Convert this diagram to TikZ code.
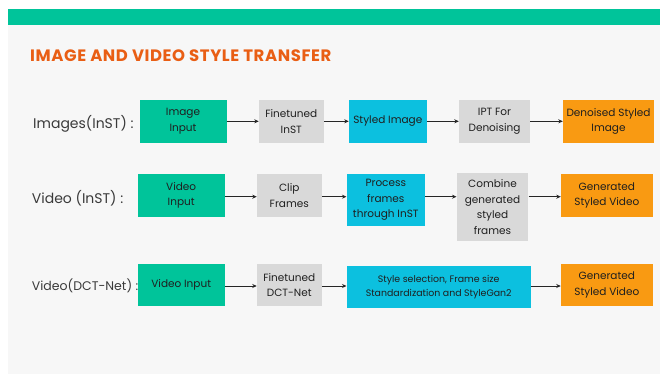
\documentclass[tikz,border=0pt]{standalone}
\usepackage{fontspec}
\setmainfont{Poppins}
\newfontfamily\titlefont[LetterSpace=3.5]{Poppins}
\usetikzlibrary{arrows.meta}
\definecolor{panel}{HTML}{F7F7F7}
\definecolor{topbar}{HTML}{00C49A}
\definecolor{inputc}{HTML}{00C49A}
\definecolor{stepc}{HTML}{D9D9D9}
\definecolor{stylec}{HTML}{0CC0DF}
\definecolor{outc}{HTML}{F99A12}
\definecolor{titlec}{HTML}{E95E14}
\definecolor{labelc}{HTML}{3A3A3A}
\begin{document}
\begin{tikzpicture}[x=1pt,y=-1pt,
  box/.style={draw=none, inner sep=1pt, align=center, text=black!88,
    font=\fontsize{10.5}{15.5}\selectfont},
  inbox/.style={box, fill=inputc},
  stepbox/.style={box, fill=stepc},
  stylebox/.style={box, fill=stylec},
  outbox/.style={box, fill=outc},
  rowlabel/.style={anchor=west, inner sep=0pt, text=labelc},
  arr/.style={-{Stealth[length=4.5pt,width=4pt]}, line width=0.8pt, black!85}]
\useasboundingbox (0,0) rectangle (660,375);
% background panel and top bar
\fill[panel] (8,9) rectangle (660,374);
\fill[topbar] (8,9) rectangle (660,25);
\node[anchor=base west, inner sep=0pt, text=titlec,
  font=\titlefont\fontsize{16.5}{18}\selectfont\bfseries] (title) at (30,61)
  {IMAGE AND VIDEO STYLE TRANSFER};

% row 1: images with InST
\node[rowlabel, font=\fontsize{14}{16}\selectfont] (l1) at (33,124) {Images(InST) :};
\node[inbox, minimum width=87pt, minimum height=42.5pt] (a1) at (183,121.3) {Image\\Input};
\node[stepbox, minimum width=64.7pt, minimum height=42.5pt] (b1) at (291.3,121.3) {Finetuned\\InST};
\node[stylebox, minimum width=77.7pt, minimum height=42.5pt] (c1) at (387.8,121.3) {Styled Image};
\node[stepbox, minimum width=71pt, minimum height=42.5pt] (d1) at (494.5,121.3) {IPT For\\Denoising};
\node[outbox, minimum width=91pt, minimum height=42.5pt] (e1) at (608.5,121.3) {Denoised Styled\\Image};
\draw[arr] (a1.east) -- (b1.west);
\draw[arr] (b1.east) -- (c1.west);
\draw[arr] (c1.east) -- (d1.west);
\draw[arr] (d1.east) -- (e1.west);

% row 2: video with InST
\node[rowlabel, font=\fontsize{14}{16}\selectfont] (l2) at (31.7,198) {Video (InST) :};
\node[inbox, minimum width=87pt, minimum height=42.7pt] (a2) at (181.2,195.3) {Video\\Input};
\node[stepbox, minimum width=64.7pt, minimum height=42.7pt] (b2) at (289.3,195.3) {Clip\\Frames};
\node[stylebox, minimum width=78.3pt, minimum height=51.4pt] (c2) at (385.8,200) {Process\\frames\\through InST};
\node[stepbox, minimum width=71.6pt, minimum height=67.7pt] (d2) at (492.5,207.2) {Combine\\generated\\styled\\frames};
\node[outbox, minimum width=91.7pt, minimum height=42.7pt] (e2) at (606.8,195.3) {Generated\\Styled Video};
\coordinate (r2) at (0,196.7);
\draw[arr] (a2.east |- r2) -- (b2.west |- r2);
\draw[arr] (b2.east |- r2) -- (c2.west |- r2);
\draw[arr] (c2.east |- r2) -- (d2.west |- r2);
\draw[arr] (d2.east |- r2) -- (e2.west |- r2);

% row 3: video with DCT-Net
\node[rowlabel, font=\fontsize{12.5}{15}\selectfont] (l3) at (31.7,286) {Video(DCT-Net) :};
\node[inbox, minimum width=87pt, minimum height=42pt] (a3) at (181.2,285) {Video Input};
\node[stepbox, minimum width=64.7pt, minimum height=42pt] (b3) at (289.3,285) {Finetuned\\DCT-Net};
\node[stylebox, minimum width=184pt, minimum height=42.6pt,
  font=\fontsize{9.4}{14.3}\selectfont] (c3) at (438.7,287) {Style selection, Frame size\\Standardization and StyleGan2};
\node[outbox, minimum width=91.7pt, minimum height=42pt] (e3) at (606.8,285) {Generated\\Styled Video};
\coordinate (r3) at (0,286);
\draw[arr] (a3.east |- r3) -- (b3.west |- r3);
\draw[arr] (b3.east |- r3) -- (c3.west |- r3);
\draw[arr] (c3.east |- r3) -- (e3.west |- r3);
\end{tikzpicture}
\end{document}
